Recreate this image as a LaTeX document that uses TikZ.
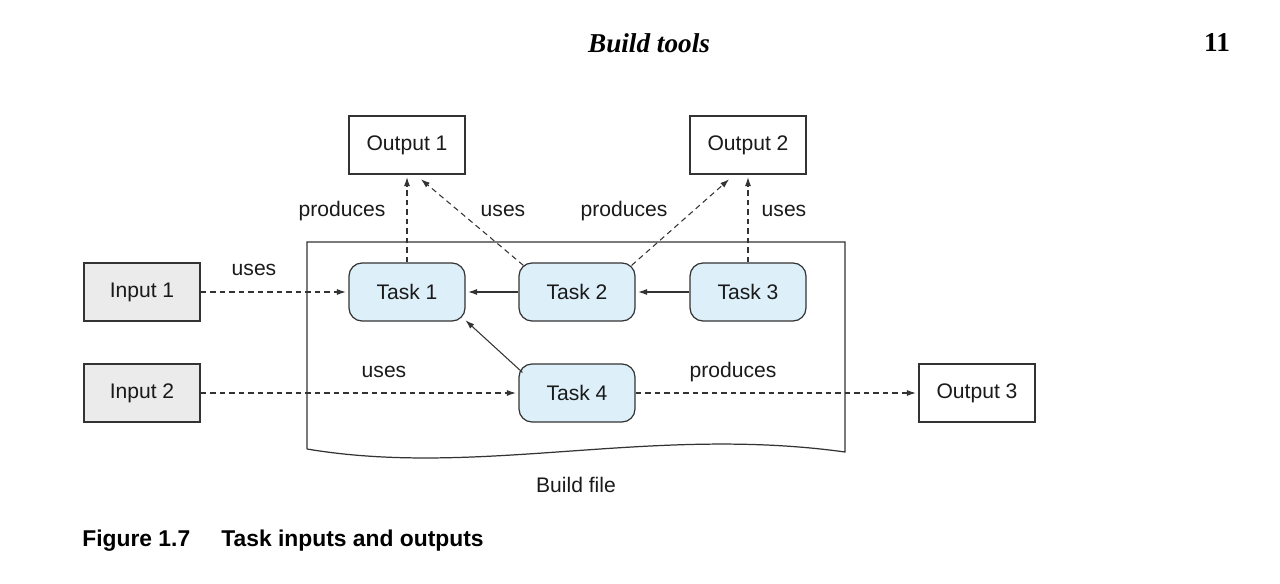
\documentclass[tikz,border=0pt]{standalone}
\usepackage{fontspec}
\setmainfont{Liberation Sans}
\newfontfamily\headfont{Liberation Serif}
\usetikzlibrary{arrows.meta,calc}
\definecolor{taskfill}{HTML}{DDF0FA}
\definecolor{inputfill}{HTML}{EBEBEB}
\definecolor{linecol}{HTML}{333333}
\definecolor{textcol}{HTML}{1A1A1A}
\tikzset{
  box/.style={draw=linecol, line width=0.7pt, minimum width=2.32cm, minimum height=1.16cm, inner sep=0pt, font=\fontsize{12}{14}\selectfont, text=textcol},
  taskbox/.style={box, fill=taskfill, rounded corners=0.26cm},
  inbox/.style={box, fill=inputfill},
  outbox/.style={box, fill=white},
  lbl/.style={font=\fontsize{12}{14}\selectfont, text=textcol, inner sep=0pt},
  arr/.style={draw=linecol, line width=0.6pt, -{Latex[length=1.8mm,width=1.2mm]}, shorten >=0.5mm},
  darr/.style={arr, dash pattern=on 1.1mm off 0.8mm},
}
\begin{document}
\begin{tikzpicture}[x=0.02cm, y=-0.02cm]
\useasboundingbox (0,0) rectangle (1280,584);
% header
\node[inner sep=0pt, font=\headfont\fontsize{15.5}{18}\selectfont\bfseries\itshape] (hd) at (649,43) {Build tools};
\node[inner sep=0pt, font=\headfont\fontsize{15.5}{18}\selectfont\bfseries] (pg) at (1217,43) {11};
% build file
\draw[draw=linecol, line width=0.7pt] (307,449) -- (307,242) -- (845,242) -- (845,452)
  .. controls (650,425) and (480,478) .. (307,449);
\node[lbl] (bf) at (576,485) {Build file};
% nodes
\node[outbox] (o1) at (407,145) {Output 1};
\node[outbox] (o2) at (748,145) {Output 2};
\node[outbox] (o3) at (977,393) {Output 3};
\node[inbox] (i1) at (142,292) {Input 1};
\node[inbox] (i2) at (142,393) {Input 2};
\node[taskbox] (t1) at (407,292) {Task 1};
\node[taskbox] (t2) at (577,292) {Task 2};
\node[taskbox] (t3) at (748,292) {Task 3};
\node[taskbox] (t4) at (577,393) {Task 4};
% connectors
\draw[darr] (i1) -- (t1);
\draw[darr] (i2) -- (t4);
\draw[darr] (t4) -- (o3);
\draw[arr] (t2) -- (t1);
\draw[arr] (t3) -- (t2);
\draw[arr] ($(t4.north west)+(4,9)$) -- ($(t1.south east)+(-2,-3)$);
\draw[darr] (t1) -- (o1);
\draw[darr] (t3) -- (o2);
\draw[darr] ($(t2.north west)+(5,3)$) -- ($(o1.south)+(12,3)$);
\draw[darr] ($(t2.north east)+(-4,3)$) -- ($(o2.south)+(-17,3)$);
% labels
\node[lbl] (l1) at (342,211) {produces};
\node[lbl] (l2) at (503,211) {uses};
\node[lbl] (l3) at (624,211) {produces};
\node[lbl] (l4) at (784,211) {uses};
\node[lbl] (l5) at (254,270) {uses};
\node[lbl] (l6) at (384,372) {uses};
\node[lbl] (l7) at (733,372) {produces};
% caption
\node[anchor=west, inner sep=0pt, font=\fontsize{13}{15}\selectfont\bfseries] (cap1) at (82,541) {Figure 1.7};
\node[anchor=west, inner sep=0pt, font=\fontsize{13}{15}\selectfont\bfseries] (cap2) at (221,541) {Task inputs and outputs};
\end{tikzpicture}
\end{document}
